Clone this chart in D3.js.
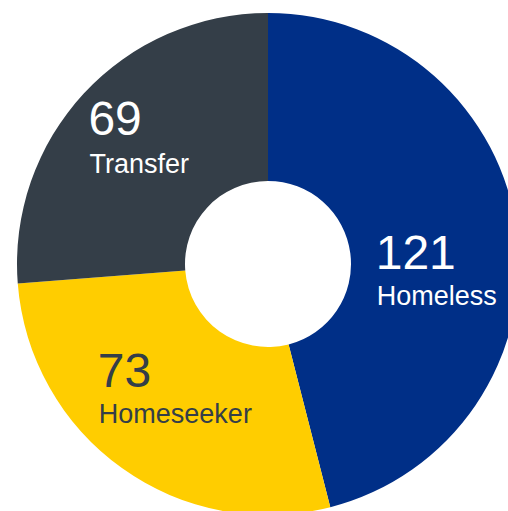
<!DOCTYPE html>
<html>
<head>
<meta charset="utf-8">
<script src="https://cdn.jsdelivr.net/npm/d3@7"></script>
<style>
  html, body { margin: 0; padding: 0; background: #ffffff; }
  svg { display: block; }
  text { font-family: "Liberation Sans", Arial, Helvetica, sans-serif; }
</style>
</head>
<body>
<svg id="chart" width="508" height="511"></svg>
<script>
// Data
const categories = ["Homeless", "Homeseeker", "Transfer"];
const values = [121, 73, 69];
const colors = ["#002F87", "#FFCD00", "#343E48"];
const textColors = ["#FFFFFF", "#343E48", "#FFFFFF"];

// Layout
const width = 508, height = 511;
const cx = 268, cy = 264;
const outerR = 251, innerR = 83;
// per-label nudge from the slice centroid (layout only)
const labelNudge = [[-58, 26], [-73, -13], [-57, -16]];
const labelGap = [36, 36, 38];

const data = categories.map((c, i) => ({ category: c, value: values[i], i }));

const svg = d3.select("#chart");
const g = svg.append("g").attr("transform", `translate(${cx},${cy})`);

const pie = d3.pie().value(d => d.value).sort(null);
const arc = d3.arc().innerRadius(innerR).outerRadius(outerR);
const arcs = pie(data);

g.selectAll("path.slice")
  .data(arcs)
  .join("path")
  .attr("class", "slice")
  .attr("d", arc)
  .attr("fill", d => colors[d.data.i]);

const labels = g.selectAll("g.label")
  .data(arcs)
  .join("g")
  .attr("class", "label")
  .attr("transform", d => {
    const [x, y] = arc.centroid(d);
    const n = labelNudge[d.data.i];
    return `translate(${x + n[0]},${y + n[1]})`;
  });

labels.append("text")
  .attr("x", 0).attr("y", 0)
  .attr("font-size", 48)
  .attr("fill", d => textColors[d.data.i])
  .text(d => d.data.value);

labels.append("text")
  .attr("x", 1).attr("y", d => labelGap[d.data.i])
  .attr("font-size", 27)
  .attr("fill", d => textColors[d.data.i])
  .text(d => d.data.category);
</script>
</body>
</html>
